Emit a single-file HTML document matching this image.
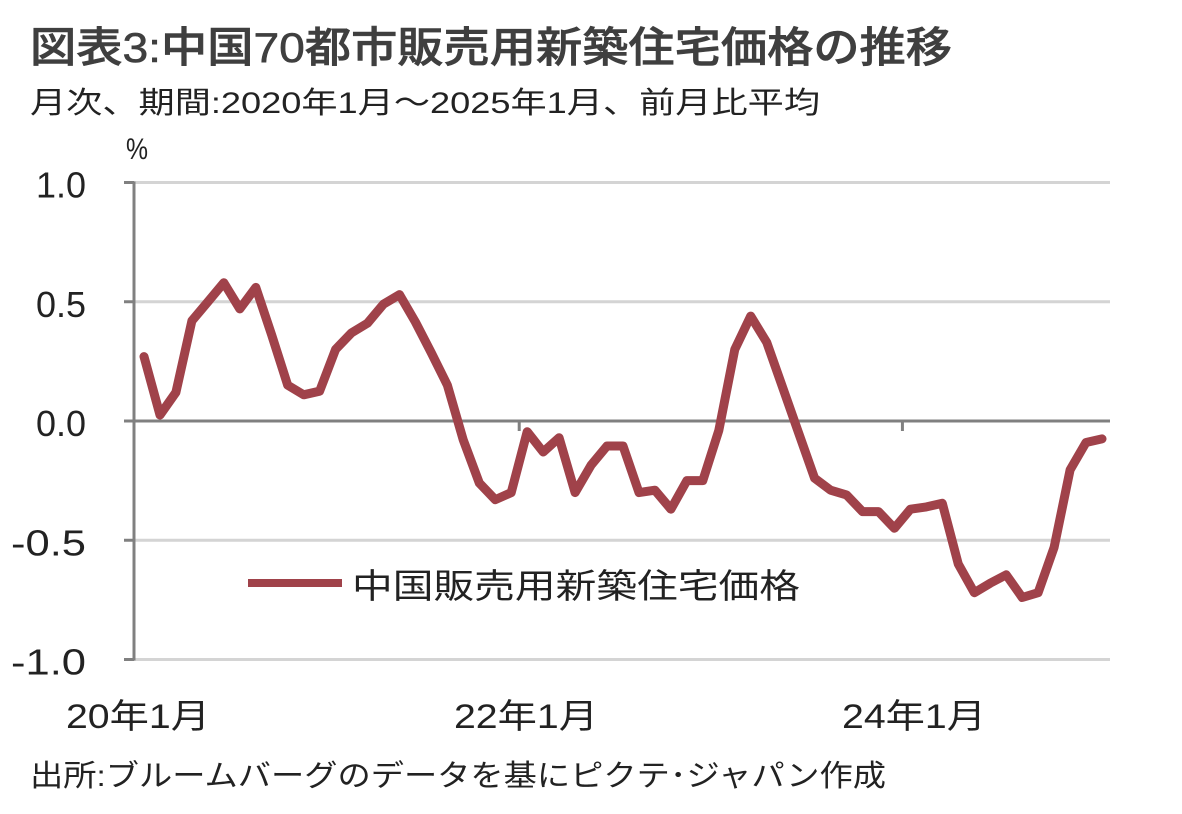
<!DOCTYPE html>
<html><head><meta charset="utf-8">
<style>
html,body{margin:0;padding:0;background:#fff;}
svg{display:block;font-family:"Liberation Sans","Noto Sans CJK JP",sans-serif;}
</style></head>
<body>
<svg id="chart" width="1182" height="814" viewBox="0 0 1182 814" xmlns="http://www.w3.org/2000/svg">
<text x="30" y="62" font-size="42" font-weight="500" fill="#3f3f3f" stroke="#3f3f3f" stroke-width="0.6" textLength="922" lengthAdjust="spacingAndGlyphs">図表3:中国70都市販売用新築住宅価格の推移</text>
<text x="30" y="113" font-size="30" fill="#222" textLength="790" lengthAdjust="spacingAndGlyphs">月次、期間:2020年1月～2025年1月、前月比平均</text>
<text x="126" y="159" font-size="30" fill="#222" textLength="22" lengthAdjust="spacingAndGlyphs">%</text>
<g id="grid"></g>
<g id="axes"></g>
<g id="series"></g>
<g>
<line x1="248" y1="583" x2="342" y2="583" stroke="#a0424a" stroke-width="8"/>
<text x="352" y="598" font-size="34" fill="#222" textLength="448" lengthAdjust="spacingAndGlyphs">中国販売用新築住宅価格</text>
</g>
<text x="30" y="786" font-size="30" fill="#222" textLength="856" lengthAdjust="spacingAndGlyphs">出所:ブルームバーグのデータを基にピクテ･ジャパン作成</text>
</svg>
<script>
const values = [0.27,0.025,0.12,0.42,0.50,0.58,0.47,0.56,0.36,0.15,0.11,0.125,0.30,0.37,0.41,0.49,0.53,0.415,0.285,0.15,
-0.08,-0.26,-0.33,-0.30,-0.045,-0.13,-0.07,-0.30,-0.185,-0.105,-0.105,-0.30,-0.29,-0.37,-0.25,-0.25,-0.04,0.30,0.44,0.33,
0.14,-0.05,-0.24,-0.29,-0.31,-0.38,-0.38,-0.45,-0.37,-0.36,-0.345,-0.60,-0.72,-0.68,-0.645,-0.74,-0.72,-0.53,-0.205,-0.09,-0.075];
const yTicks = [1.0,0.5,0.0,-0.5,-1.0];
const yTickLabels = ["1.0","0.5","0.0","-0.5","-1.0"];
const xTickIndex = [0,24,48];
const xTickLabels = ["20年1月","22年1月","24年1月"];

const NS="http://www.w3.org/2000/svg";
const plotL=136, plotR=1110, y0=421, pxPerUnit=238.5;
const step=(plotR-plotL)/values.length;
function xPos(i){return plotL+step*(i+0.5);}
function yPos(v){return y0-v*pxPerUnit;}
function mk(tag,attrs,parent){const e=document.createElementNS(NS,tag);for(const k in attrs)e.setAttribute(k,attrs[k]);parent.appendChild(e);return e;}
const grid=document.getElementById('grid'), axes=document.getElementById('axes'), series=document.getElementById('series');
yTicks.forEach((t,k)=>{
  if(t!==0){
    const g=mk('line',{x1:plotL-2,x2:plotR,y1:yPos(t),y2:yPos(t),stroke:'#d4d4d4','stroke-width':3},grid);
    
    
  }
  const tk=mk('line',{x1:124,x2:134,y1:yPos(t),y2:yPos(t),stroke:'#808080','stroke-width':3},axes);
  
  
  const lbl=yTickLabels[k];
  const w=lbl.charAt(0)==='-'?75:50;
  const lb=mk('text',{x:86-w,y:yPos(t)+15,'font-size':36,fill:'#222',textLength:w,lengthAdjust:'spacingAndGlyphs'},axes);
  lb.textContent=lbl;
  
  
});
const za=mk('line',{x1:134,x2:plotR,y1:y0,y2:y0,stroke:'#808080','stroke-width':3},axes);


const ya=mk('line',{x1:134,x2:134,y1:yPos(1.0)-1,y2:yPos(-1.0)+1,stroke:'#808080','stroke-width':3},axes);


xTickIndex.forEach((idx,k)=>{
  if(idx>0){
    const bx=xPos(idx)-step/2;
    const tk=mk('line',{x1:bx,x2:bx,y1:y0,y2:y0+10,stroke:'#808080','stroke-width':3},axes);
    
    
  }
  const lb=mk('text',{x:xPos(idx)-78+idx*0.2,y:728,'font-size':34,fill:'#222',textLength:144,lengthAdjust:'spacingAndGlyphs'},axes);
  lb.textContent=xTickLabels[k];
  
  
});
const pts=values.map((v,i)=>xPos(i).toFixed(1)+','+yPos(v).toFixed(1)).join(' ');
const line=mk('polyline',{points:pts,fill:'none',stroke:'#a0424a','stroke-width':9,'stroke-linejoin':'round','stroke-linecap':'round'},series);


</script>
</body></html>
